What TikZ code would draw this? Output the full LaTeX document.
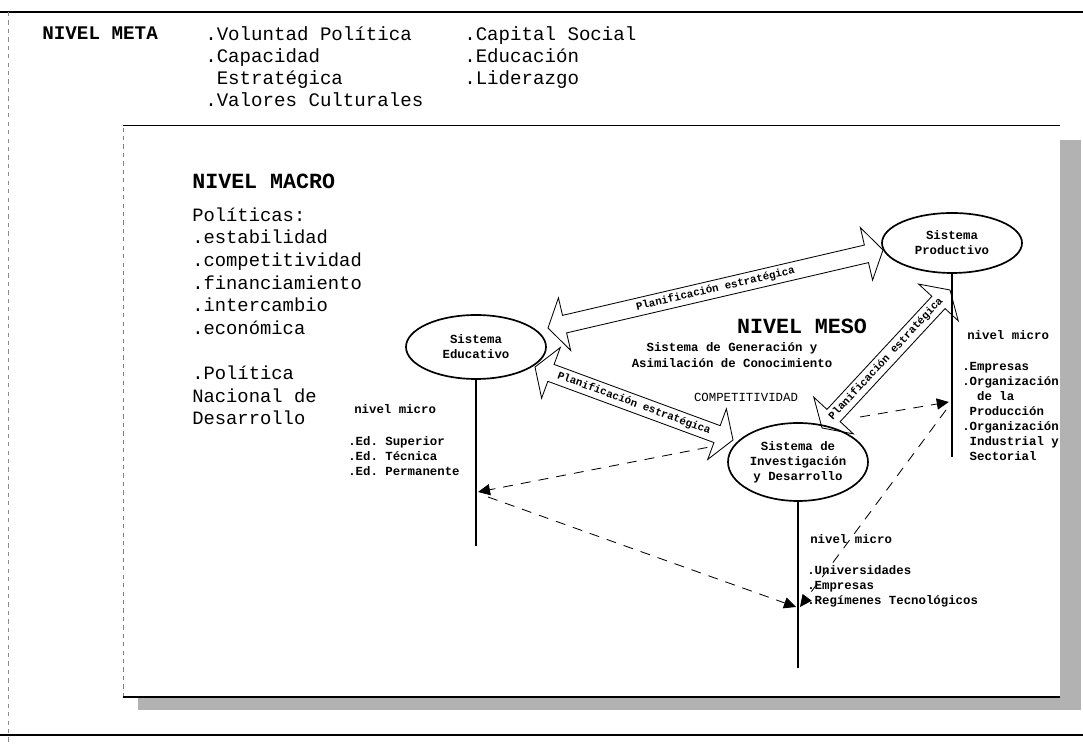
\documentclass[tikz,border=0pt]{standalone}
\usepackage{fontspec}
\setmonofont{Liberation Mono}
\usetikzlibrary{calc,arrows.meta,shapes.geometric}
\def\planarrow(#1)(#2)#3#4{
	\coordinate (ha) at ($(#1)!0.425cm!(#2)$);
	\coordinate (hb) at ($(#2)!0.425cm!(#1)$);
	\draw[planbody] (#1) -- ($(ha)!0.675cm!90:(#2)$) -- ($(ha)!0.225cm!90:(#2)$) -- ($(hb)!0.225cm!-90:(#1)$) -- ($(hb)!0.675cm!-90:(#1)$) -- (#2) -- ($(hb)!0.675cm!90:(#1)$) -- ($(hb)!0.225cm!90:(#1)$) -- ($(ha)!0.225cm!-90:(#2)$) -- ($(ha)!0.675cm!-90:(#2)$) -- cycle;
	\path (#1) -- (#2) node[midway, sloped, plantext] (#3) {#4};
}
\tikzset{
	sys/.style={ellipse, draw, line width=1.2pt, inner sep=0pt, minimum width=3.5cm, align=center, font=\ttfamily\bfseries\fontsize{8.8}{10.7}\selectfont},
	stem/.style={line width=1.1pt},
	planbody/.style={draw, fill=white, line width=0.6pt, line join=miter},
	plantext/.style={font=\ttfamily\bfseries\fontsize{7.7}{9}\selectfont, inner sep=0pt},
	flow/.style={line width=0.6pt, dash pattern=on 2.5mm off 2mm, -{Triangle[length=3mm,width=2.8mm]}},
	bigtxt/.style={font=\ttfamily\fontsize{13.6}{15.7}\selectfont, align=left, anchor=base west, inner sep=0pt},
	headtxt/.style={font=\ttfamily\bfseries\fontsize{15.4}{18}\selectfont, anchor=base west, inner sep=0pt},
	microtxt/.style={font=\ttfamily\bfseries\fontsize{8.8}{10.7}\selectfont, align=left, anchor=base west, inner sep=0pt},
}
\begin{document}
\begin{tikzpicture}
			%%%%% START %%%%%
			\useasboundingbox (0,0) rectangle (27.075,18.6);
			
			\draw[line width=0.8pt] (0,18.3) -- (27.075,18.3);
			\draw[line width=1pt] (0,0.225) -- (27.075,0.225);
			\draw[black!45, dashed, line width=0.4pt] (0.2,18.3) -- (0.2,0);
			
			\fill[black!30] (26.5,15.1) rectangle (27.025,0.85);
			\fill[black!30] (3.45,1.175) rectangle (27.025,0.85);
			\draw[black!50, dashed, line width=0.4pt] (3.075,1.175) -- (3.075,15.475);
			\draw[line width=0.6pt] (3.075,15.475) -- (26.5,15.475);
			\draw[line width=0.8pt] (3.075,1.175) -- (26.5,1.175);
			
			\node[headtxt, font=\ttfamily\bfseries\fontsize{13.7}{15.7}\selectfont] (meta) at (1.05,17.6) {NIVEL META};
			\node[bigtxt] (metaA) at (5.125,15.939) {.Voluntad Política\\.Capacidad\\\phantom{.}Estratégica\\.Valores Culturales};
			\node[bigtxt] (metaB) at (11.6,16.492) {.Capital Social\\.Educación\\.Liderazgo};
			
			\node[headtxt] (macro) at (4.8,13.875) {NIVEL MACRO};
			\node[bigtxt, font=\ttfamily\fontsize{13.4}{16.1}\selectfont] (politicas) at (4.8,7.977) {Políticas:\\.estabilidad\\.competitividad\\.financiamiento\\.intercambio\\.económica\\[16.1pt].Política\\Nacional de\\Desarrollo};
			
			\coordinate (d1a) at (18.125,7.5);
			\coordinate (d1b) at (11.95,6.3);
			\coordinate (d2a) at (12.2,6.175);
			\coordinate (d2b) at (19.9,3.425);
			\coordinate (d3a) at (21.5,8.175);
			\coordinate (d3b) at (23.72,8.55);
			\coordinate (d4a) at (23.65,8.35);
			\coordinate (d4b) at (20.0,3.425);
			\draw[flow] (d1a) -- (d1b);
			\draw[flow] (d2a) -- (d2b);
			\draw[flow] (d3a) -- (d3b);
			\draw[flow] (d4a) -- (d4b);
			
			\coordinate (p1a) at (13.7,10.4);
			\coordinate (p1b) at (22.075,12.35);
			\coordinate (p2a) at (13.375,9.425);
			\coordinate (p2b) at (18.325,7.6);
			\coordinate (p3a) at (20.55,7.9);
			\coordinate (p3b) at (23.75,11.35);
			\planarrow(p1a)(p1b){plan1}{Planificación estratégica}
			\planarrow(p2a)(p2b){plan2}{Planificación estratégica}
			\planarrow(p3a)(p3b){plan3}{Planificación estratégica}
			
			\node[sys, minimum height=1.6cm] (edu) at (11.9,9.925) {Sistema\\Educativo};
			\node[sys, minimum height=1.5cm] (prod) at (23.8,12.525) {Sistema\\Productivo};
			\node[sys, minimum height=1.95cm] (inv) at (19.95,7.05) {Sistema de\\Investigación\\y Desarrollo};
			
			\coordinate (eduEnd) at (11.9,4.95);
			\coordinate (invEnd) at (19.95,1.9);
			\coordinate (prodEnd) at (23.8,7.175);
			\draw[stem] (edu.south) -- (eduEnd);
			\draw[stem] (inv.south) -- (invEnd);
			\draw[stem] (prod.south) -- (prodEnd);
			
			\node[headtxt, anchor=base] (meso) at (20.05,10.25) {NIVEL MESO};
			\node[microtxt, align=center, anchor=base] (meso2) at (18.3,9.424) {Sistema de Generación y\\Asimilación de Conocimiento};
			\node[microtxt, font=\ttfamily\fontsize{8.8}{10.7}\selectfont, anchor=base] (compet) at (18.65,8.55) {COMPETITIVIDAD};
			
			\node[microtxt] (eduMicro) at (8.85,8.25) {nivel micro};
			\node[microtxt] (eduList) at (8.7,6.722) {.Ed. Superior\\.Ed. Técnica\\.Ed. Permanente};
			\node[microtxt] (invMicro) at (20.25,5.0) {nivel micro};
			\node[microtxt] (invList) at (20.175,3.497) {.Universidades\\.Empresas\\.Regímenes Tecnológicos};
			\node[microtxt] (prodMicro) at (24.175,10.1) {nivel micro};
			\node[microtxt] (prodList) at (24.05,7.092) {.Empresas\\.Organización\\\phantom{..}de la\\\phantom{.}Producción\\.Organización\\\phantom{.}Industrial y\\\phantom{.}Sectorial};
			
			%%%%% END %%%%%
\end{tikzpicture}
\end{document}
